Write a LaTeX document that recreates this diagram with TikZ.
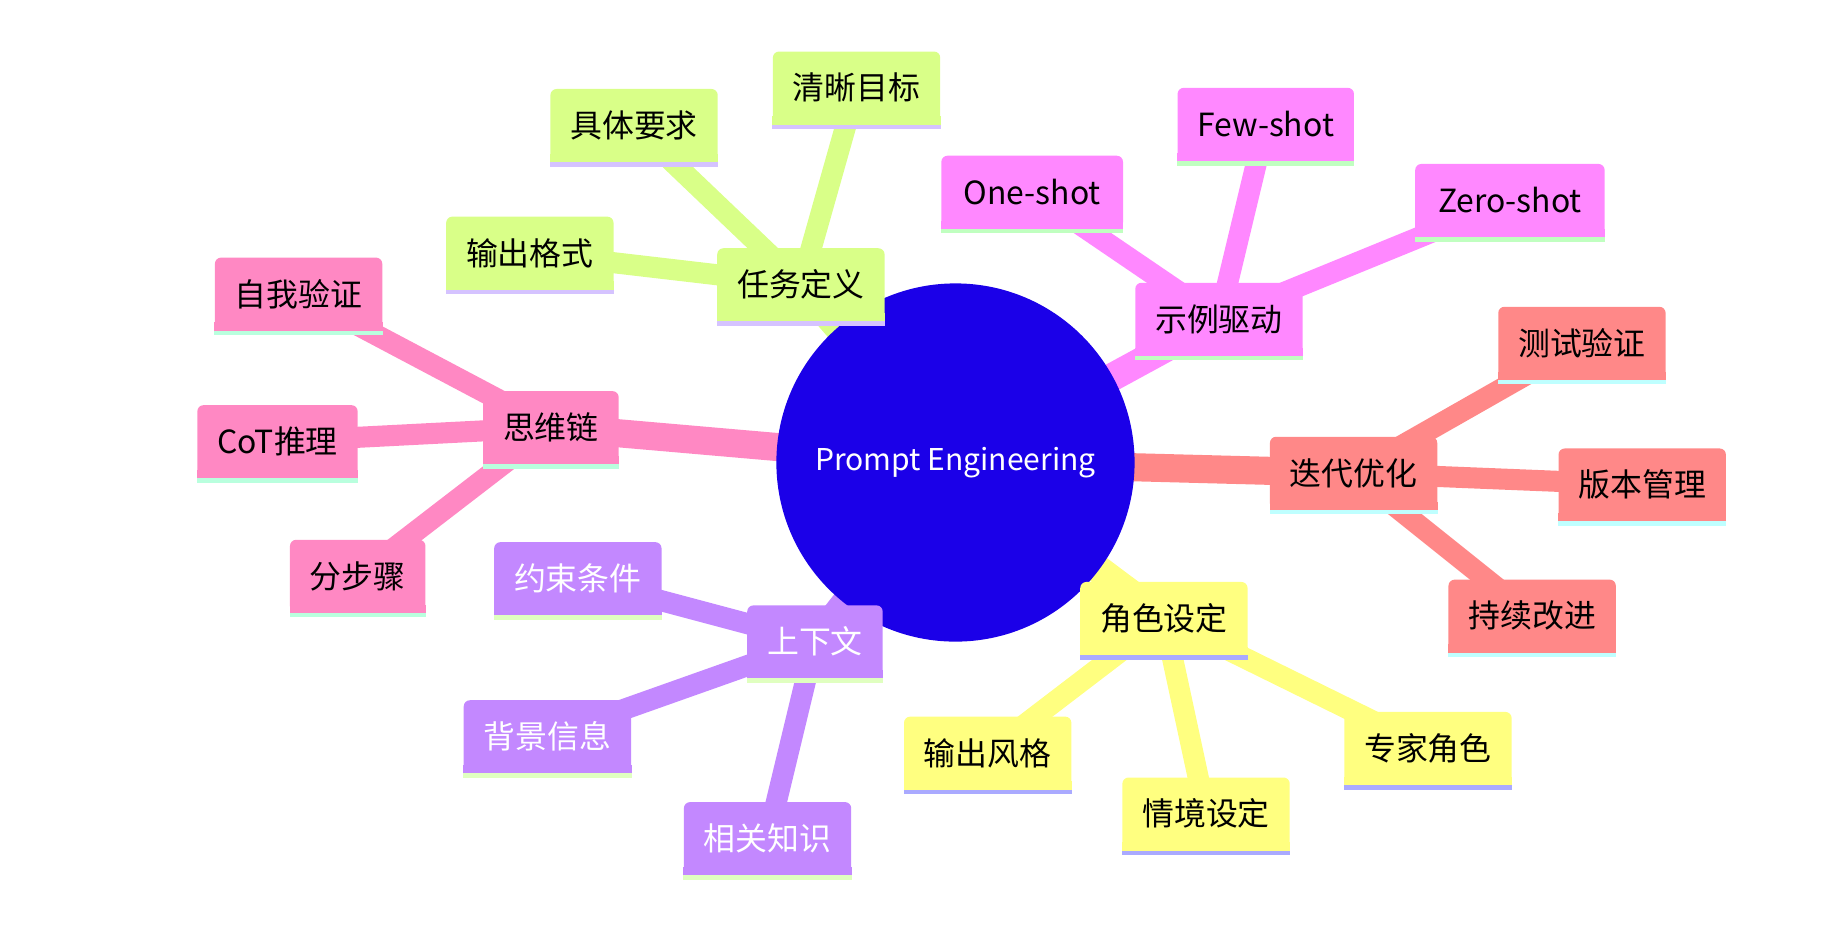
\documentclass[tikz,border=0pt]{standalone}
\usepackage{fontspec}
\setmainfont{Noto Sans CJK SC}
\usetikzlibrary{backgrounds}
\definecolor{rootblue}{RGB}{27,0,232}
\definecolor{cotpink}{RGB}{255,136,195}
\definecolor{cotstripe}{RGB}{185,255,222}
\definecolor{taskgreen}{RGB}{217,255,136}
\definecolor{taskstripe}{RGB}{213,195,255}
\definecolor{demopink}{RGB}{255,136,255}
\definecolor{demostripe}{RGB}{192,255,192}
\definecolor{itersalmon}{RGB}{255,136,136}
\definecolor{iterstripe}{RGB}{191,255,255}
\definecolor{roleyellow}{RGB}{255,255,128}
\definecolor{rolestripe}{RGB}{170,170,255}
\definecolor{ctxpurple}{RGB}{195,136,255}
\definecolor{ctxstripe}{RGB}{224,255,192}

\begin{document}
\begin{tikzpicture}[x=0.02cm, y=-0.02cm]
  \tikzstyle{box} = [rectangle, rounded corners=3pt, inner xsep=0.34cm, inner ysep=0pt, minimum height=1.24cm, font=\fontsize{15.5}{18}\selectfont]
  \tikzstyle{trunk} = [line width=0.48cm]
  \tikzstyle{twig} = [line width=0.36cm]

  \useasboundingbox (0,0) rectangle (1568,791);

  \node[circle, fill=rootblue, minimum size=6.12cm, text=white, font=\fontsize{14.6}{18}\selectfont] (root) at (816,395) {Prompt Engineering};

  \node[box, fill=taskgreen] (task) at (684,243) {任务定义};
  \node[box, fill=taskgreen] (fmt) at (452.5,216) {输出格式};
  \node[box, fill=taskgreen] (req) at (541.5,107) {具体要求};
  \node[box, fill=taskgreen] (goal) at (731.5,75) {清晰目标};

  \node[box, fill=demopink] (demo) at (1041,272.5) {示例驱动};
  \node[box, fill=demopink, inner xsep=0.38cm] (one) at (881.5,164) {One-shot};
  \node[box, fill=demopink] (few) at (1081,106) {Few-shot};
  \node[box, fill=demopink, inner xsep=0.39cm] (zero) at (1289.5,171) {Zero-shot};

  \node[box, fill=itersalmon] (iter) at (1156,404) {迭代优化};
  \node[box, fill=itersalmon] (test) at (1351,293) {测试验证};
  \node[box, fill=itersalmon] (ver) at (1402.5,414) {版本管理};
  \node[box, fill=itersalmon] (impr) at (1308.5,526) {持续改进};

  \node[box, fill=roleyellow] (role) at (994,528) {角色设定};
  \node[box, fill=roleyellow] (style) at (843.5,643) {输出风格};
  \node[box, fill=roleyellow] (scene) at (1030,695) {情境设定};
  \node[box, fill=roleyellow] (expert) at (1219.5,639) {专家角色};

  \node[box, fill=ctxpurple, text=white] (ctx) at (696,548) {上下文};
  \node[box, fill=ctxpurple, text=white] (cons) at (493.5,494) {约束条件};
  \node[box, fill=ctxpurple, text=white] (bg) at (467.5,629) {背景信息};
  \node[box, fill=ctxpurple, text=white] (know) at (655.5,716) {相关知识};

  \node[box, fill=cotpink] (cot) at (470.5,365) {思维链};
  \node[box, fill=cotpink] (selfv) at (255,251) {自我验证};
  \node[box, fill=cotpink] (cotr) at (237,377) {CoT推理};
  \node[box, fill=cotpink] (steps) at (305.5,492) {分步骤};

  \foreach \n/\c/\s in {task/taskgreen/taskstripe, fmt/taskgreen/taskstripe, req/taskgreen/taskstripe, goal/taskgreen/taskstripe,
      demo/demopink/demostripe, one/demopink/demostripe, few/demopink/demostripe, zero/demopink/demostripe,
      iter/itersalmon/iterstripe, test/itersalmon/iterstripe, ver/itersalmon/iterstripe, impr/itersalmon/iterstripe,
      role/roleyellow/rolestripe, style/roleyellow/rolestripe, scene/roleyellow/rolestripe, expert/roleyellow/rolestripe,
      ctx/ctxpurple/ctxstripe, cons/ctxpurple/ctxstripe, bg/ctxpurple/ctxstripe, know/ctxpurple/ctxstripe,
      cot/cotpink/cotstripe, selfv/cotpink/cotstripe, cotr/cotpink/cotstripe, steps/cotpink/cotstripe}
  {
    \fill[\c] (\n.south west) rectangle ([yshift=4pt]\n.south east);
    \fill[\s] (\n.south west) rectangle ([yshift=-0.08cm]\n.south east);
  }

  \begin{scope}[on background layer]
    \draw[trunk, taskgreen] (root.center) -- (task.center);
    \draw[trunk, demopink] (root.center) -- (demo.center);
    \draw[trunk, itersalmon] (root.center) -- (iter.center);
    \draw[trunk, roleyellow] (root.center) -- (role.center);
    \draw[trunk, ctxpurple] (root.center) -- (ctx.center);
    \draw[trunk, cotpink] (root.center) -- (cot.center);

    \foreach \a/\b in {fmt/task, req/task, goal/task}
      \draw[twig, taskgreen] (\a.center) -- (\b.center);
    \foreach \a/\b in {one/demo, few/demo, zero/demo}
      \draw[twig, demopink] (\a.center) -- (\b.center);
    \foreach \a/\b in {test/iter, ver/iter, impr/iter}
      \draw[twig, itersalmon] (\a.center) -- (\b.center);
    \foreach \a/\b in {style/role, scene/role, expert/role}
      \draw[twig, roleyellow] (\a.center) -- (\b.center);
    \foreach \a/\b in {cons/ctx, bg/ctx, know/ctx}
      \draw[twig, ctxpurple] (\a.center) -- (\b.center);
    \foreach \a/\b in {selfv/cot, cotr/cot, steps/cot}
      \draw[twig, cotpink] (\a.center) -- (\b.center);
  \end{scope}
\end{tikzpicture}
\end{document}
